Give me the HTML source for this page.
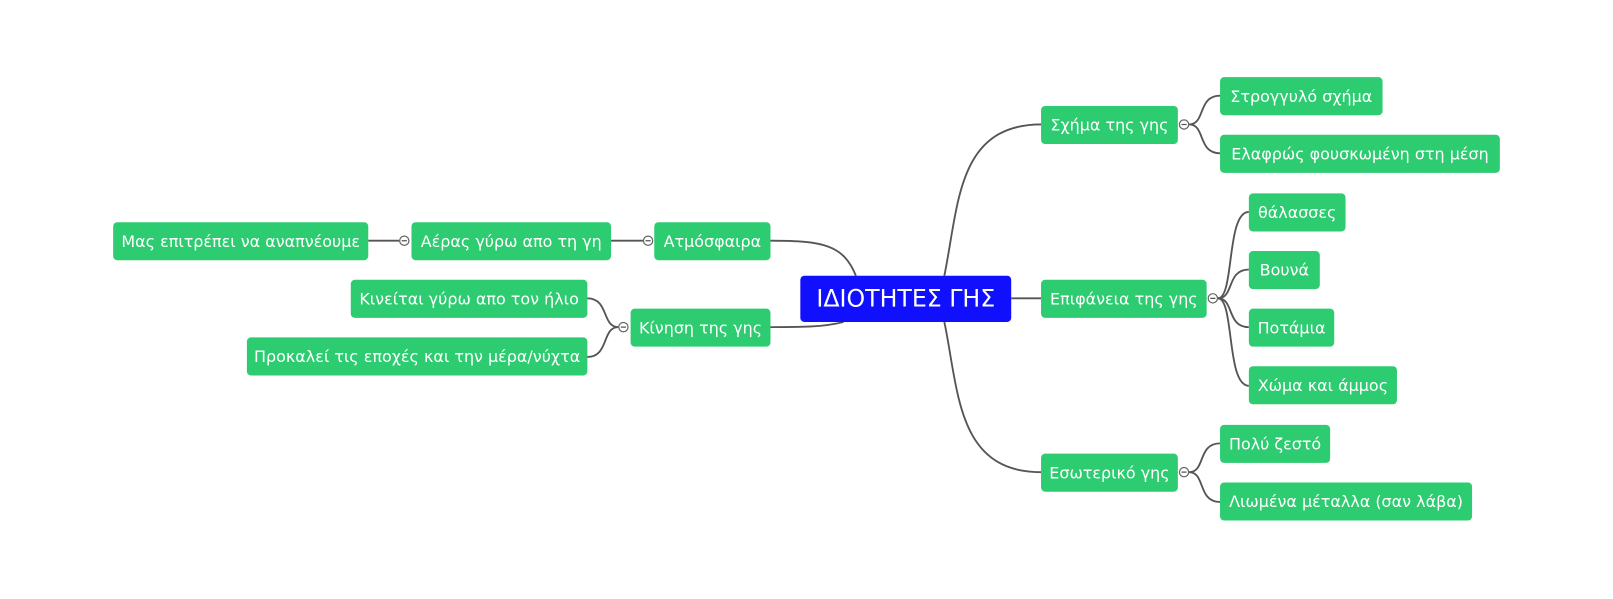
<!DOCTYPE html>
<html><head><meta charset="utf-8"><style>
html,body{margin:0;padding:0;background:#fff;}
body{width:1613px;height:598px;position:relative;overflow:hidden;font-family:"DejaVu Sans","Liberation Sans",sans-serif;}
#w{position:absolute;left:0;top:0;width:1568px;height:582px;transform:scale(1.0287);transform-origin:0 0;}
.n{position:absolute;background:#2ecc71;color:#fff;border-radius:4px;font-size:15.5px;display:flex;align-items:center;justify-content:center;white-space:nowrap;}
.c{background:#1010ff;font-size:23px;}
svg{position:absolute;left:0;top:0;}
</style></head><body><div id="w">
<svg width="1568" height="582" fill="none" stroke="#555" stroke-width="1.8">
<path d="M918,268 C932,200 930,121 1012,121"/>
<path d="M918,313 C932,380 930,459 1012,459"/>
<path d="M983,290 L1012,290"/>
<path d="M832,268 C820,238 800,234 749,234"/>
<path d="M820,313 C800,318 780,318 749,318"/>
<path d="M1156,121 C1172,121 1164,93 1186,93"/>
<path d="M1156,121 C1172,121 1164,149 1186,149"/>
<path d="M1184,290 C1200,290 1192,206 1214,206"/>
<path d="M1184,290 C1200,290 1192,262 1214,262"/>
<path d="M1184,290 C1200,290 1192,318 1214,318"/>
<path d="M1184,290 C1200,290 1192,375 1214,375"/>
<path d="M1156,459 C1172,459 1164,431 1186,431"/>
<path d="M1156,459 C1172,459 1164,488 1186,488"/>
<path d="M594,234 L625,234"/>
<path d="M358,234 L388,234"/>
<path d="M601,318 C585,318 592,290 571,290"/>
<path d="M601,318 C585,318 592,347 571,347"/>
<g stroke-width="1.2" fill="#fff" stroke="#666">
<circle cx="1151" cy="121" r="4.5"/><circle cx="1179" cy="290" r="4.5"/><circle cx="1151" cy="459" r="4.5"/>
<circle cx="630" cy="234" r="4.5"/><circle cx="393" cy="234" r="4.5"/><circle cx="606" cy="318" r="4.5"/>
</g>
<g stroke-width="1.2" stroke="#555">
<path d="M1148.5,121h5M1176.5,290h5M1148.5,459h5M627.5,234h5M390.5,234h5M603.5,318h5"/>
</g>
</svg>
<div class="n c" style="left:778px;top:268px;width:205px;height:45px">ΙΔΙΟΤΗΤΕΣ ΓΗΣ</div>
<div class="n" style="left:1012px;top:103px;width:133px;height:37px">Σχήμα της γης</div>
<div class="n" style="left:1186px;top:75px;width:158px;height:37px">Στρογγυλό σχήμα</div>
<div class="n" style="left:1186px;top:131px;width:272px;height:37px">Ελαφρώς φουσκωμένη στη μέση</div>
<div class="n" style="left:1012px;top:272px;width:161px;height:37px">Επιφάνεια της γης</div>
<div class="n" style="left:1214px;top:188px;width:94px;height:37px">θάλασσες</div>
<div class="n" style="left:1214px;top:244px;width:69px;height:37px">Βουνά</div>
<div class="n" style="left:1214px;top:300px;width:83px;height:37px">Ποτάμια</div>
<div class="n" style="left:1214px;top:356px;width:144px;height:37px">Χώμα και άμμος</div>
<div class="n" style="left:1012px;top:441px;width:133px;height:37px">Εσωτερικό γης</div>
<div class="n" style="left:1186px;top:413px;width:107px;height:37px">Πολύ ζεστό</div>
<div class="n" style="left:1186px;top:469px;width:245px;height:37px">Λιωμένα μέταλλα (σαν λάβα)</div>
<div class="n" style="left:636px;top:216px;width:113px;height:37px">Ατμόσφαιρα</div>
<div class="n" style="left:400px;top:216px;width:194px;height:37px">Αέρας γύρω απο τη γη</div>
<div class="n" style="left:110px;top:216px;width:248px;height:37px">Μας επιτρέπει να αναπνέουμε</div>
<div class="n" style="left:613px;top:300px;width:136px;height:37px">Κίνηση της γης</div>
<div class="n" style="left:341px;top:272px;width:230px;height:37px">Κινείται γύρω απο τον ήλιο</div>
<div class="n" style="left:240px;top:328px;width:331px;height:37px">Προκαλεί τις εποχές και την μέρα/νύχτα</div>
</div></body></html>
